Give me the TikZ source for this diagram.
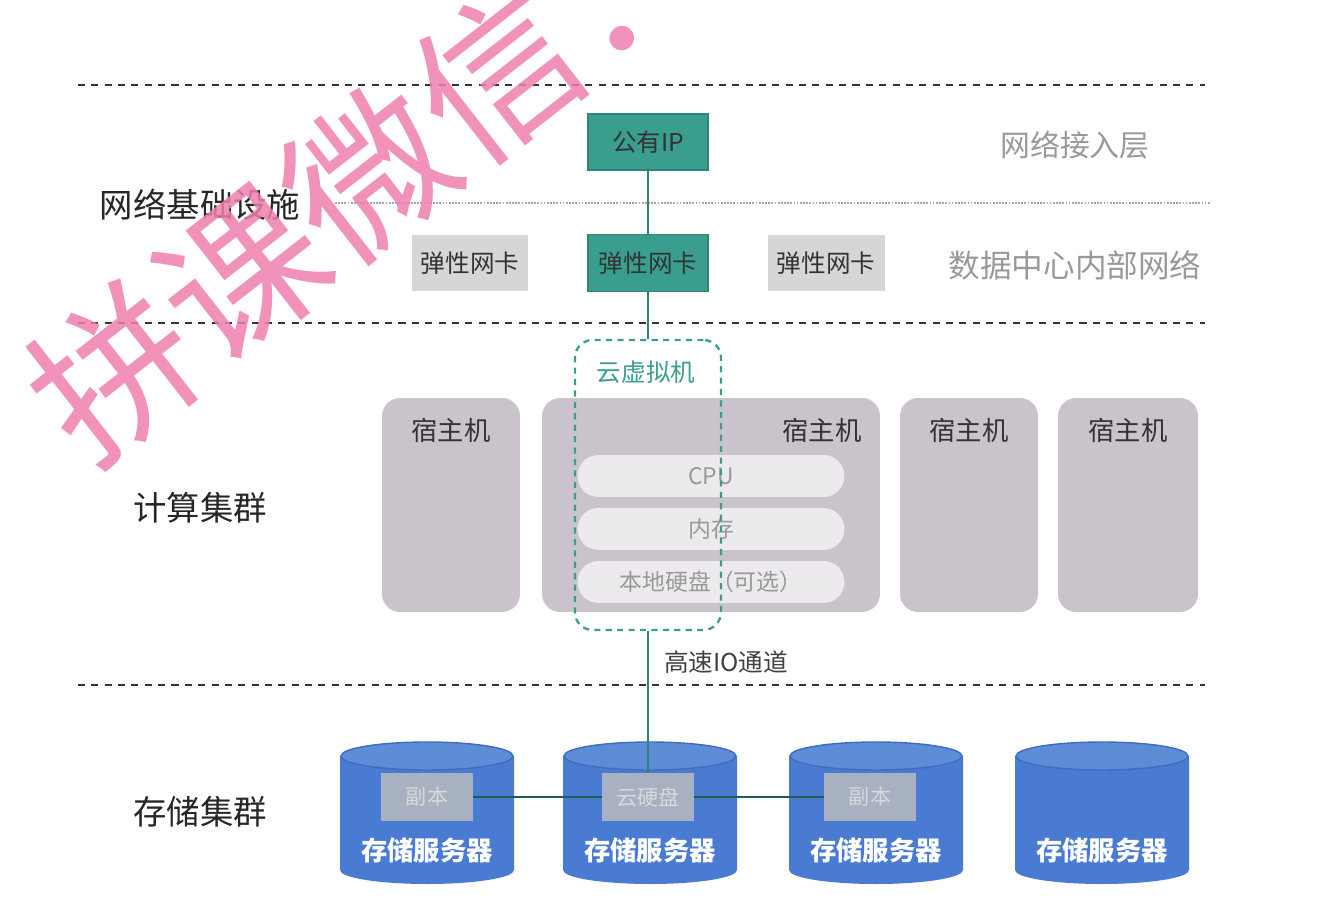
\documentclass[tikz,border=0pt]{standalone}
\usepackage{fontspec}
\setmainfont{Noto Sans CJK SC}
\definecolor{tealbox}{HTML}{3A9E8F}
\definecolor{tealdark}{HTML}{2E8577}
\definecolor{hostfill}{HTML}{CBC3CC}
\definecolor{pillfill}{HTML}{EDEAEE}
\definecolor{cylbody}{HTML}{4A7BD2}
\definecolor{cyltop}{HTML}{5E8DD8}
\definecolor{cylrim}{HTML}{3F6CC2}
\definecolor{wmpink}{HTML}{EE7FAE}
\begin{document}
\begin{tikzpicture}[x=0.02cm,y=-0.02cm]
\tikzset{layer line/.style={line width=1.6pt,dash pattern=on 4pt off 3.6pt,color=black!80},
sub line/.style={line width=0.8pt,dash pattern=on 1pt off 0.8pt,color=black!35},
side title/.style={font=\fontsize{19}{19}\selectfont,text=black!85},
side note/.style={font=\fontsize{17}{17}\selectfont,text=black!40},
teal box/.style={draw=tealdark,fill=tealbox,line width=0.8pt,inner sep=0pt,minimum width=2.4cm,minimum height=1.12cm,font=\fontsize{14}{14}\selectfont,text=black!80},
gray nic/.style={fill=black!16,inner sep=0pt,minimum width=2.34cm,minimum height=1.14cm,font=\fontsize{14}{14}\selectfont,text=black!80},
host/.style={fill=hostfill,rounded corners=0.36cm,inner sep=0pt,minimum height=4.28cm},
host label/.style={font=\fontsize{15}{15}\selectfont,text=black!80},
pill/.style={fill=pillfill,rounded corners=0.42cm,inner sep=0pt,minimum width=5.34cm,minimum height=0.84cm,font=\fontsize{13}{13}\selectfont,text=black!40},
vm box/.style={draw=tealbox,line width=1.3pt,dash pattern=on 3.5pt off 3pt,rounded corners=0.35cm,inner sep=0pt,minimum width=2.92cm,minimum height=5.8cm},
link/.style={draw=tealdark,line width=1.3pt},
store link/.style={draw=tealdark!70!black,line width=1.2pt},
copy box/.style={fill=black!25,fill opacity=0.8,text opacity=1,inner sep=0pt,minimum width=1.84cm,minimum height=0.96cm,font=\fontsize{12}{12}\selectfont,text=white!85!black},
store text/.style={font=\bfseries\fontsize{15}{15}\selectfont,text=white}}
\useasboundingbox (0,0) rectangle (1328,918);
% layers
\draw[layer line] (78,85) -- (1205,85);
\draw[sub line] (335,203) -- (1210,203);
\draw[layer line] (78,323) -- (1205,323);
\draw[layer line] (78,685) -- (1205,685);
\node[side title] (netinfra) at (200,205) {网络基础设施};
\node[side title] (compute) at (200,508) {计算集群};
\node[side title] (storage) at (200,812) {存储集群};
\node[side note] (access) at (1075,145) {网络接入层};
\node[side note,font=\fontsize{18}{18}\selectfont] (dcnet) at (1075,265) {数据中心内部网络};
% network
\node[teal box] (ip) at (648,142) {公有IP};
\node[gray nic] (nicA) at (470,263) {弹性网卡};
\node[teal box,minimum height=1.14cm] (nicB) at (648,263) {弹性网卡};
\node[gray nic] (nicC) at (826,263) {弹性网卡};
% hosts
\node[host,minimum width=2.76cm] (hostA) at (451,505) {};
\node[host,minimum width=6.76cm] (hostB) at (711,505) {};
\node[host,minimum width=2.76cm] (hostC) at (969,505) {};
\node[host,minimum width=2.8cm] (hostD) at (1128,505) {};
\node[host label] (lblA) at (451,430) {宿主机};
\node[host label] (lblB) at (822,430) {宿主机};
\node[host label] (lblC) at (969,430) {宿主机};
\node[host label] (lblD) at (1128,430) {宿主机};
\node[pill] (cpu) at (711,476) {CPU};
\node[pill] (mem) at (711,529) {内存};
\node[pill] (disk) at (711,582) {本地硬盘（可选）};
\node[vm box] (vm) at (648,485) {};
\node[font=\fontsize{14}{14}\selectfont,text=tealbox] (vmlbl) at (646,372) {云虚拟机};
\node[font=\fontsize{14}{14}\selectfont,text=black!75,anchor=west] (io) at (658,662) {高速IO通道};
% storage servers
\foreach \cx/\nm in {427/A,650/B,876/C,1102/D}{
\fill[cylbody] (\cx-87,756) -- (\cx-87,870) arc[start angle=180,end angle=0,x radius=87,y radius=14] -- (\cx+87,756) -- cycle;
\draw[cylrim,fill=cyltop,line width=0.8pt] (\cx,756) ellipse [x radius=86,y radius=14];
\node[store text] (srv\nm) at (\cx,850) {存储服务器};
}
\node[copy box] (repA) at (427,797) {副本};
\node[copy box] (vdisk) at (648,797) {云硬盘};
\node[copy box] (repC) at (870,797) {副本};
% connectors
\draw[link] (ip) -- (nicB);
\draw[link] (nicB) -- (vm);
\draw[link] (vm) -- (vdisk);
\draw[store link] (repA) -- (vdisk) -- (repC);
% watermark
\node[text=wmpink,opacity=0.85,rotate=38,font=\fontsize{92}{92}\selectfont] (wm) at (369,174) {拼课微信：};
\end{tikzpicture}
\end{document}
